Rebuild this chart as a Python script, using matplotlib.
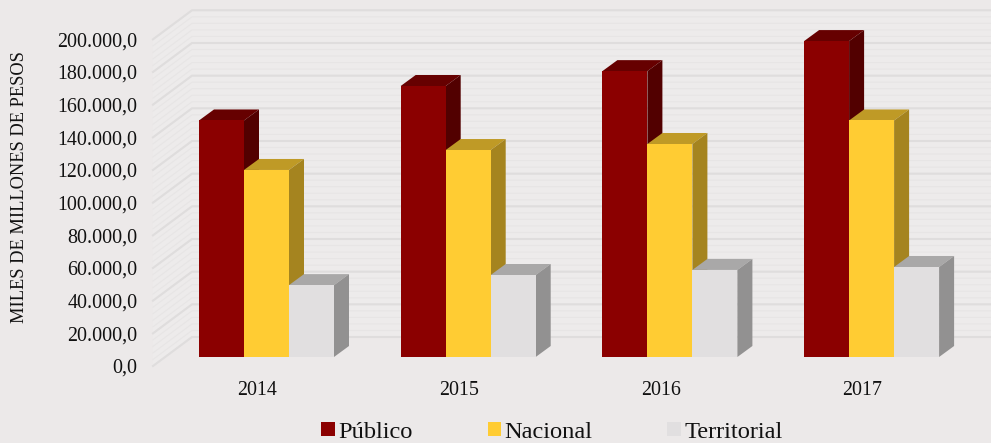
import numpy as np
import matplotlib
matplotlib.use('Agg')
import matplotlib.pyplot as plt
from matplotlib.patches import Polygon

plt.rcParams['font.family'] = ['Liberation Serif', 'DejaVu Serif']

years = ['2014', '2015', '2016', '2017']
publico = [144800, 165900, 175000, 193400]
nacional = [114500, 126700, 130400, 144800]
territorial = [44000, 50200, 53300, 55100]
y_ticks = list(range(0, 200001, 20000))
y_labels = ['0,0', '20.000,0', '40.000,0', '60.000,0', '80.000,0', '100.000,0',
            '120.000,0', '140.000,0', '160.000,0', '180.000,0', '200.000,0']

W, H = 991, 443
BG = '#ECE9E9'
WALL_X = 39       # depth of the chart walls, pixels
WALL_Y = 29
PX_X = 201.7      # pixels per category
PX_Y = 326.7 / 200000


def dx(px):
    return px / PX_X


def dy(px):
    return px / PX_Y


fig = plt.figure(figsize=(W / 100, H / 100), dpi=100, facecolor=BG)
# axes frame is the front edge of the walls: x 153..991, y 39..366 in pixels
ax = fig.add_axes([153 / W, 1 - 366 / H, (W - 153) / W, 326.7 / H], facecolor='none')
x0 = (266.5 - 153) / PX_X
ax.set_xlim(-x0, -x0 + (W - 153) / PX_X)
ax.set_ylim(0, 200000)
for s in ax.spines.values():
    s.set_visible(False)
ax.patch.set_visible(False)

# walls
left = -x0
back = left + dx(WALL_X)
right = ax.get_xlim()[1]
ax.add_patch(Polygon([(left, 0), (back, dy(WALL_Y)), (right, dy(WALL_Y)),
                      (right, 200000 + dy(WALL_Y)), (back, 200000 + dy(WALL_Y)), (left, 200000)],
                     fc='#EDEBEB', ec='none', clip_on=False, zorder=0))
minor = np.arange(0, 200001, 4000)
for v in minor:
    ax.plot([left, back, right], [v, v + dy(WALL_Y), v + dy(WALL_Y)], color='#E7E5E5', lw=0.8,
            clip_on=False, zorder=1)
for v in y_ticks:
    ax.plot([left, back, right], [v, v + dy(WALL_Y), v + dy(WALL_Y)], color='#DFDDDD', lw=1.5,
            clip_on=False, zorder=2)

# bars stand 9 px above the front edge of the floor
base = dy(9)
width = 45 / PX_X
depth_x, depth_y = dx(15), dy(11)
x = np.arange(len(years))
series = [
    ('Público', publico, -width, '#8B0000', '#660000', '#520000'),
    ('Nacional', nacional, 0, '#FFCC33', '#BF9A26', '#A5841F'),
    ('Territorial', territorial, width, '#E1DFE0', '#A9A8A8', '#929191'),
]
for name, vals, off, front, top, side in series:
    bars = ax.bar(x + off, vals, width=width, bottom=base, color=front, label=name, zorder=5, clip_on=False)
    for bar in bars:
        x1, x2 = bar.get_x(), bar.get_x() + bar.get_width()
        y1, y2 = bar.get_y(), bar.get_y() + bar.get_height()
        ax.add_patch(Polygon([(x1, y2), (x1 + depth_x, y2 + depth_y), (x2 + depth_x, y2 + depth_y), (x2, y2)],
                             fc=top, ec='none', zorder=4, clip_on=False))
        ax.add_patch(Polygon([(x2, y1), (x2 + depth_x, y1 + depth_y), (x2 + depth_x, y2 + depth_y), (x2, y2)],
                             fc=side, ec='none', zorder=4, clip_on=False))

# the year labels sit a little left of the bar groups in the reference
ax.set_xticks(x - dx(9), years, fontsize=14.4, color='#111111')
ax.set_yticks(y_ticks, y_labels, fontsize=14.4, color='#111111')
ax.tick_params(axis='both', length=0)
ax.tick_params(axis='y', pad=11)
ax.tick_params(axis='x', pad=11)

fig.text(20 / W, 1 - 187 / H, 'MILES DE MILLONES DE PESOS', rotation=90, fontsize=13.2,
         ha='center', va='center', color='#111111')

handles, labels = ax.get_legend_handles_labels()
fig.legend(handles, labels, ncol=3, loc='center', bbox_to_anchor=(552 / W, 1 - 432 / H), frameon=False,
           fontsize=17.6, handlelength=0.55, handleheight=0.5, handletextpad=0.15, columnspacing=3.06,
           labelcolor='#111111', borderpad=0)

fig.savefig('out.png', dpi=100, facecolor=BG)
